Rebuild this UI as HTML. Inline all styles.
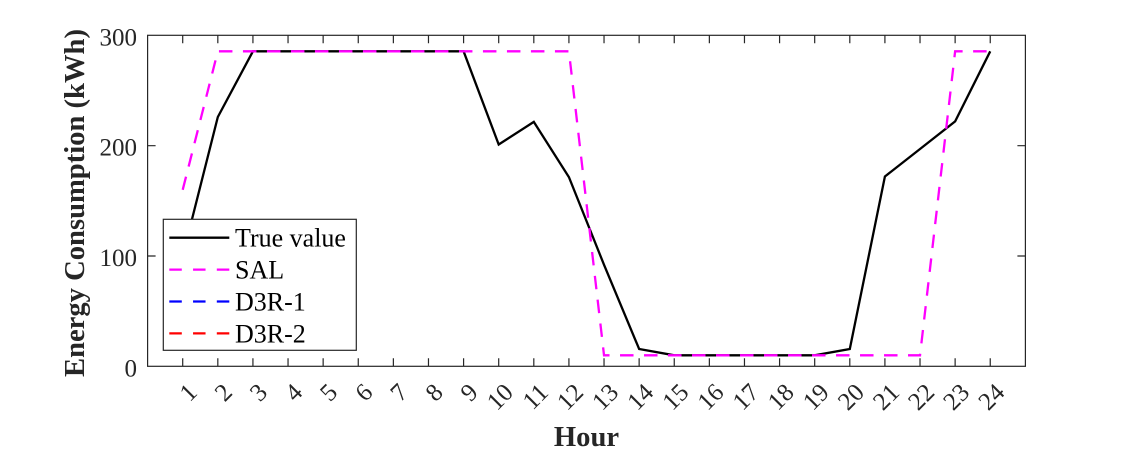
<!DOCTYPE html>
<html>
<head>
<meta charset="utf-8">
<style>
  html, body { margin: 0; padding: 0; background: #ffffff; }
  svg { display: block; }
  text { font-family: "Liberation Serif", "Times New Roman", serif; fill: #262626; }
</style>
</head>
<body>
<svg width="1134" height="453" viewBox="0 0 1134 453" xmlns="http://www.w3.org/2000/svg">
  <rect x="0" y="0" width="1134" height="453" fill="#ffffff"/>

  <!-- data lines -->
  <polyline fill="none" stroke="#000000" stroke-width="2.3" stroke-linejoin="miter"
    points="182.71,256 217.82,117 252.93,51.3 463.59,51.3 498.7,144.5 533.81,121.9 568.92,177.1 604.03,264.8 639.14,349 674.25,355.3 814.69,355.3 849.8,349 884.91,176.5 920.02,149 955.13,121.4 990.24,51.3"/>
  <polyline fill="none" stroke="#FF00FF" stroke-width="2.3" stroke-dasharray="13.5 10.5"
    points="182.71,189.8 217.82,51.3 568.92,51.3 604.03,355.3 920.02,355.3 955.13,51.3 990.24,51.3"/>

  <!-- axes box -->
  <rect x="147.6" y="35.3" width="877.8" height="331" fill="none" stroke="#262626" stroke-width="1.2"/>

  <!-- x ticks -->
  <g stroke="#262626" stroke-width="1.2">
    <path d="M182.71 366.3v-8M217.82 366.3v-8M252.93 366.3v-8M288.04 366.3v-8M323.15 366.3v-8M358.26 366.3v-8M393.37 366.3v-8M428.48 366.3v-8M463.59 366.3v-8M498.7 366.3v-8M533.81 366.3v-8M568.92 366.3v-8M604.03 366.3v-8M639.14 366.3v-8M674.25 366.3v-8M709.36 366.3v-8M744.47 366.3v-8M779.58 366.3v-8M814.69 366.3v-8M849.8 366.3v-8M884.91 366.3v-8M920.02 366.3v-8M955.13 366.3v-8M990.24 366.3v-8"/>
    <path d="M182.71 35.3v8M217.82 35.3v8M252.93 35.3v8M288.04 35.3v8M323.15 35.3v8M358.26 35.3v8M393.37 35.3v8M428.48 35.3v8M463.59 35.3v8M498.7 35.3v8M533.81 35.3v8M568.92 35.3v8M604.03 35.3v8M639.14 35.3v8M674.25 35.3v8M709.36 35.3v8M744.47 35.3v8M779.58 35.3v8M814.69 35.3v8M849.8 35.3v8M884.91 35.3v8M920.02 35.3v8M955.13 35.3v8M990.24 35.3v8"/>
    <!-- y ticks -->
    <path d="M147.6 256h8M147.6 145.7h8M1025.4 256h-8M1025.4 145.7h-8"/>
  </g>

  <!-- y tick labels -->
  <g font-size="25" text-anchor="end">
    <text x="137" y="376.3">0</text>
    <text x="137" y="266">100</text>
    <text x="137" y="155.7">200</text>
    <text x="137" y="45.3">300</text>
  </g>

  <!-- x tick labels (rotated) -->
  <g font-size="25" text-anchor="end" dominant-baseline="central">
    <text x="193.2" y="388.5" transform="rotate(-45 193.2 388.5)">1</text>
    <text x="228.3" y="388.5" transform="rotate(-45 228.3 388.5)">2</text>
    <text x="263.4" y="388.5" transform="rotate(-45 263.4 388.5)">3</text>
    <text x="298.5" y="388.5" transform="rotate(-45 298.5 388.5)">4</text>
    <text x="333.6" y="388.5" transform="rotate(-45 333.6 388.5)">5</text>
    <text x="368.8" y="388.5" transform="rotate(-45 368.8 388.5)">6</text>
    <text x="403.9" y="388.5" transform="rotate(-45 403.9 388.5)">7</text>
    <text x="439.0" y="388.5" transform="rotate(-45 439.0 388.5)">8</text>
    <text x="474.1" y="388.5" transform="rotate(-45 474.1 388.5)">9</text>
    <text x="509.2" y="388.5" transform="rotate(-45 509.2 388.5)">10</text>
    <text x="544.3" y="388.5" transform="rotate(-45 544.3 388.5)">11</text>
    <text x="579.4" y="388.5" transform="rotate(-45 579.4 388.5)">12</text>
    <text x="614.5" y="388.5" transform="rotate(-45 614.5 388.5)">13</text>
    <text x="649.6" y="388.5" transform="rotate(-45 649.6 388.5)">14</text>
    <text x="684.8" y="388.5" transform="rotate(-45 684.8 388.5)">15</text>
    <text x="719.9" y="388.5" transform="rotate(-45 719.9 388.5)">16</text>
    <text x="755.0" y="388.5" transform="rotate(-45 755.0 388.5)">17</text>
    <text x="790.1" y="388.5" transform="rotate(-45 790.1 388.5)">18</text>
    <text x="825.2" y="388.5" transform="rotate(-45 825.2 388.5)">19</text>
    <text x="860.3" y="388.5" transform="rotate(-45 860.3 388.5)">20</text>
    <text x="895.4" y="388.5" transform="rotate(-45 895.4 388.5)">21</text>
    <text x="930.5" y="388.5" transform="rotate(-45 930.5 388.5)">22</text>
    <text x="965.6" y="388.5" transform="rotate(-45 965.6 388.5)">23</text>
    <text x="1000.7" y="388.5" transform="rotate(-45 1000.7 388.5)">24</text>
  </g>

  <!-- axis labels -->
  <text x="586.5" y="446" font-size="28.6" font-weight="bold" text-anchor="middle">Hour</text>
  <text x="84" y="203" font-size="28.6" font-weight="bold" text-anchor="middle" transform="rotate(-90 84 203)">Energy Consumption (kWh)</text>

  <!-- legend -->
  <rect x="163.3" y="219.3" width="193" height="131" fill="#ffffff" stroke="#262626" stroke-width="1.2"/>
  <line x1="169.3" y1="237.7" x2="229.3" y2="237.7" stroke="#000000" stroke-width="2.3"/>
  <line x1="169.3" y1="269.6" x2="229.3" y2="269.6" stroke="#FF00FF" stroke-width="2.3" stroke-dasharray="12.5 11.25"/>
  <line x1="169.3" y1="301.5" x2="229.3" y2="301.5" stroke="#0000FF" stroke-width="2.3" stroke-dasharray="12.5 11.25"/>
  <line x1="169.3" y1="333.4" x2="229.3" y2="333.4" stroke="#FF0000" stroke-width="2.3" stroke-dasharray="12.5 11.25"/>
  <g font-size="26" fill="#000000">
    <text x="235" y="246.7" style="fill:#000">True value</text>
    <text x="235" y="278.6" style="fill:#000">SAL</text>
    <text x="235" y="310.5" style="fill:#000">D3R-1</text>
    <text x="235" y="342.4" style="fill:#000">D3R-2</text>
  </g>
</svg>
</body>
</html>
